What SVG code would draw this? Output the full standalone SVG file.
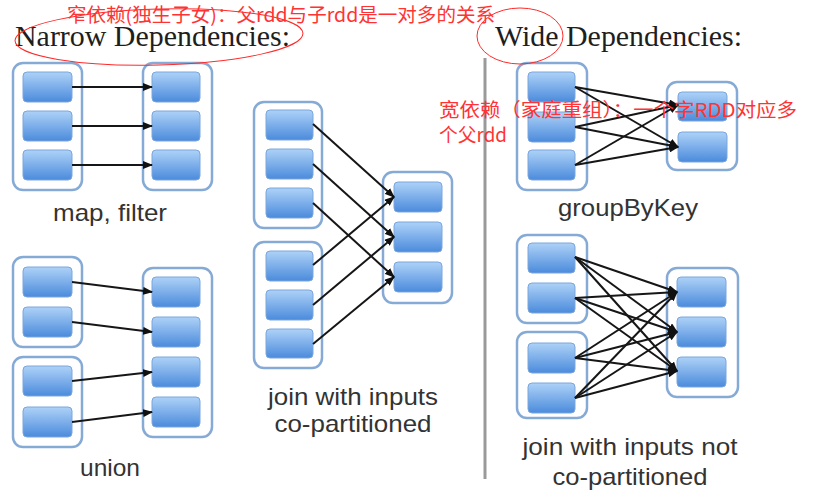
<svg xmlns="http://www.w3.org/2000/svg" width="814" height="503" viewBox="0 0 814 503">
<defs>
<linearGradient id="bg" x1="0" y1="0" x2="0" y2="1">
<stop offset="0" stop-color="#aed2f7"/>
<stop offset="1" stop-color="#4b8bdc"/>
</linearGradient>
<marker id="ah" markerUnits="userSpaceOnUse" markerWidth="10" markerHeight="8" refX="9" refY="4" orient="auto">
<path d="M0,0 L10,4 L0,8 z" fill="#111"/>
</marker>
<style>
.c{fill:#fff;stroke:#86aad6;stroke-width:2.5}
.b{fill:url(#bg);stroke:#7aa6dc;stroke-width:1}
.e{stroke:#161616;stroke-width:2;fill:none;marker-end:url(#ah)}
.t{font-family:"Liberation Sans",Arial,sans-serif;font-size:24px;fill:#333;text-anchor:middle}
.h{font-family:"Liberation Serif","Times New Roman",serif;font-size:30px;fill:#1e1e1e}
.r{font-family:"Noto Sans CJK SC","Noto Sans",sans-serif;font-size:19px;fill:#ff3333}
.o{fill:none;stroke:#ff2a2a;stroke-width:1}
</style>
</defs>
<rect width="814" height="503" fill="#fff"/>

<text class="h" x="15" y="46" textLength="275" lengthAdjust="spacingAndGlyphs">Narrow Dependencies:</text>
<text class="h" x="495" y="46" textLength="247" lengthAdjust="spacingAndGlyphs">Wide Dependencies:</text>
<line x1="485" y1="58" x2="485" y2="479" stroke="#9a9a9a" stroke-width="3"/>

<g id="mapfilter-in">
<rect class="c" x="13" y="63" width="69" height="127" rx="10"/>
<rect class="b" x="23" y="72" width="49" height="30" rx="4"/>
<rect class="b" x="23" y="111" width="49" height="30" rx="4"/>
<rect class="b" x="23" y="150" width="49" height="30" rx="4"/>
</g>
<g id="mapfilter-out">
<rect class="c" x="143" y="63" width="69" height="127" rx="10"/>
<rect class="b" x="152" y="72" width="48" height="30" rx="4"/>
<rect class="b" x="152" y="111" width="48" height="30" rx="4"/>
<rect class="b" x="152" y="150" width="48" height="30" rx="4"/>
</g>
<text class="t" x="110" y="221" textLength="114" lengthAdjust="spacingAndGlyphs">map, filter</text>

<g id="union-in1">
<rect class="c" x="13" y="257" width="69" height="90" rx="10"/>
<rect class="b" x="23" y="267" width="49" height="30" rx="4"/>
<rect class="b" x="23" y="307" width="49" height="30" rx="4"/>
</g>
<g id="union-in2">
<rect class="c" x="13" y="357" width="69" height="90" rx="10"/>
<rect class="b" x="23" y="366" width="49" height="30" rx="4"/>
<rect class="b" x="23" y="407" width="49" height="30" rx="4"/>
</g>
<g id="union-out">
<rect class="c" x="143" y="268" width="69" height="169" rx="10"/>
<rect class="b" x="152" y="277" width="48" height="30" rx="4"/>
<rect class="b" x="152" y="317" width="48" height="30" rx="4"/>
<rect class="b" x="152" y="357" width="48" height="30" rx="4"/>
<rect class="b" x="152" y="397" width="48" height="30" rx="4"/>
</g>
<text class="t" x="110" y="476" textLength="60" lengthAdjust="spacingAndGlyphs">union</text>

<g id="join-in1">
<rect class="c" x="254" y="102" width="68" height="126" rx="10"/>
<rect class="b" x="266" y="110" width="47" height="30" rx="4"/>
<rect class="b" x="266" y="149" width="47" height="30" rx="4"/>
<rect class="b" x="266" y="188" width="47" height="30" rx="4"/>
</g>
<g id="join-in2">
<rect class="c" x="254" y="242" width="68" height="126" rx="10"/>
<rect class="b" x="266" y="251" width="47" height="30" rx="4"/>
<rect class="b" x="266" y="290" width="47" height="30" rx="4"/>
<rect class="b" x="266" y="329" width="47" height="29" rx="4"/>
</g>
<g id="join-out">
<rect class="c" x="383" y="172" width="69" height="131" rx="10"/>
<rect class="b" x="394" y="182" width="48" height="30" rx="4"/>
<rect class="b" x="394" y="222" width="48" height="30" rx="4"/>
<rect class="b" x="394" y="262" width="48" height="30" rx="4"/>
</g>
<text class="t" x="353" y="405" textLength="170" lengthAdjust="spacingAndGlyphs">join with inputs</text>
<text class="t" x="353" y="432" textLength="157" lengthAdjust="spacingAndGlyphs">co-partitioned</text>

<g id="gbk-in">
<rect class="c" x="517" y="63" width="70" height="127" rx="10"/>
<rect class="b" x="528" y="72" width="47" height="30" rx="4"/>
<rect class="b" x="528" y="112" width="47" height="30" rx="4"/>
<rect class="b" x="528" y="150" width="47" height="30" rx="4"/>
</g>
<g id="gbk-out">
<rect class="c" x="667" y="82" width="70" height="88" rx="10"/>
<rect class="b" x="678" y="92" width="49" height="29" rx="4"/>
<rect class="b" x="678" y="132" width="49" height="30" rx="4"/>
</g>
<text class="t" x="628" y="216" textLength="140" lengthAdjust="spacingAndGlyphs">groupByKey</text>

<g id="njoin-in1">
<rect class="c" x="517" y="235" width="70" height="88" rx="10"/>
<rect class="b" x="528" y="243" width="47" height="30" rx="4"/>
<rect class="b" x="528" y="283" width="47" height="30" rx="4"/>
</g>
<g id="njoin-in2">
<rect class="c" x="517" y="332" width="70" height="86" rx="10"/>
<rect class="b" x="528" y="343" width="47" height="30" rx="4"/>
<rect class="b" x="528" y="383" width="47" height="30" rx="4"/>
</g>
<g id="njoin-out">
<rect class="c" x="667" y="268" width="71" height="129" rx="10"/>
<rect class="b" x="677" y="277" width="49" height="30" rx="4"/>
<rect class="b" x="677" y="317" width="49" height="30" rx="4"/>
<rect class="b" x="677" y="357" width="49" height="30" rx="4"/>
</g>
<text class="t" x="630" y="455" textLength="215" lengthAdjust="spacingAndGlyphs">join with inputs not</text>
<text class="t" x="630" y="485" textLength="155" lengthAdjust="spacingAndGlyphs">co-partitioned</text>

<g id="connectors">
<line class="e" x1="72" y1="87" x2="152" y2="87"/>
<line class="e" x1="72" y1="126" x2="152" y2="126"/>
<line class="e" x1="72" y1="165" x2="152" y2="165"/>

<line class="e" x1="72" y1="282" x2="152" y2="292"/>
<line class="e" x1="72" y1="322" x2="152" y2="332"/>
<line class="e" x1="72" y1="381" x2="152" y2="372"/>
<line class="e" x1="72" y1="422" x2="152" y2="412"/>

<line class="e" x1="313" y1="124" x2="394" y2="197"/>
<line class="e" x1="313" y1="164" x2="394" y2="237"/>
<line class="e" x1="313" y1="203" x2="394" y2="277"/>
<line class="e" x1="313" y1="265" x2="394" y2="197"/>
<line class="e" x1="313" y1="305" x2="394" y2="237"/>
<line class="e" x1="313" y1="344" x2="394" y2="277"/>

<line class="e" x1="575" y1="87" x2="678" y2="105"/>
<line class="e" x1="575" y1="87" x2="678" y2="147"/>
<line class="e" x1="575" y1="127" x2="678" y2="105"/>
<line class="e" x1="575" y1="127" x2="678" y2="147"/>
<line class="e" x1="575" y1="165" x2="678" y2="105"/>
<line class="e" x1="575" y1="165" x2="678" y2="147"/>

<line class="e" x1="575" y1="257" x2="677" y2="292"/>
<line class="e" x1="575" y1="257" x2="677" y2="332"/>
<line class="e" x1="575" y1="257" x2="677" y2="371"/>
<line class="e" x1="575" y1="298" x2="677" y2="292"/>
<line class="e" x1="575" y1="298" x2="677" y2="332"/>
<line class="e" x1="575" y1="298" x2="677" y2="371"/>
<line class="e" x1="575" y1="358" x2="677" y2="292"/>
<line class="e" x1="575" y1="358" x2="677" y2="332"/>
<line class="e" x1="575" y1="358" x2="677" y2="371"/>
<line class="e" x1="575" y1="398" x2="677" y2="292"/>
<line class="e" x1="575" y1="398" x2="677" y2="332"/>
<line class="e" x1="575" y1="398" x2="677" y2="371"/>
</g>

<g id="annotations">
<ellipse class="o" cx="159" cy="37" rx="144" ry="28" transform="rotate(-1.5 159 37)"/>
<ellipse class="o" cx="520" cy="36" rx="43" ry="28"/>
<text class="r" x="67" y="22" textLength="428" lengthAdjust="spacingAndGlyphs">窄依赖(独生子女)：父rdd与子rdd是一对多的关系</text>
<text class="r" x="439" y="117" textLength="358" lengthAdjust="spacingAndGlyphs">宽依赖（家庭重组）：一个字RDD对应多</text>
<text class="r" x="439" y="142" textLength="68" lengthAdjust="spacingAndGlyphs">个父rdd</text>
</g>
</svg>
